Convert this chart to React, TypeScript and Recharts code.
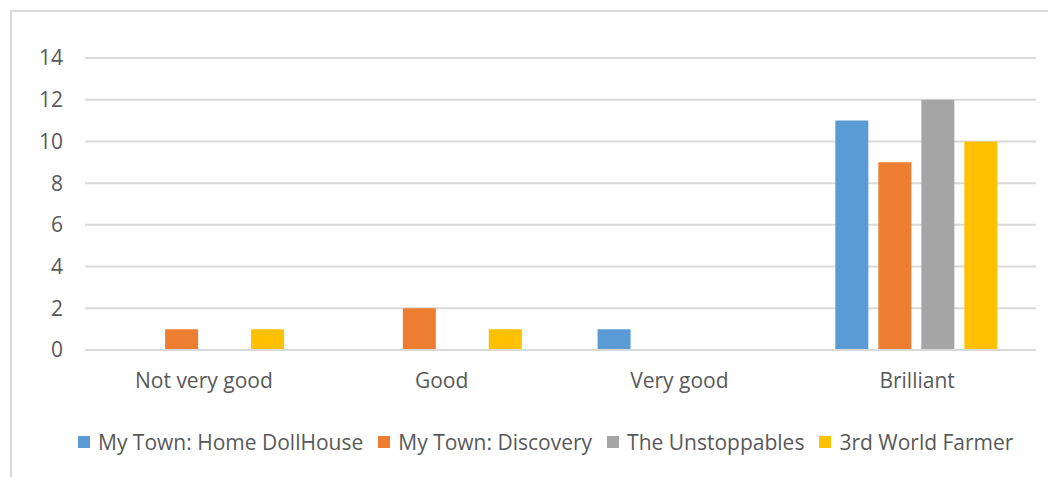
import React from 'react';
import { BarChart, Bar, XAxis, YAxis, CartesianGrid, Legend } from 'recharts';

// ratings from the survey
const categories = ['Not very good', 'Good', 'Very good', 'Brilliant'];
const homeDollHouse = [0, 0, 1, 11];
const discovery = [1, 2, 0, 9];
const unstoppables = [0, 0, 0, 12];
const worldFarmer = [1, 1, 0, 10];
const yTicks = [0, 2, 4, 6, 8, 10, 12, 14];

const series = [
    { key: 'home', name: 'My Town: Home DollHouse', color: '#5B9BD5' },
    { key: 'discovery', name: 'My Town: Discovery', color: '#ED7D31' },
    { key: 'unstoppables', name: 'The Unstoppables', color: '#A5A5A5' },
    { key: 'farmer', name: '3rd World Farmer', color: '#FFC000' },
];

const data = categories.map((c, i) => ({
    name: c,
    home: homeDollHouse[i],
    discovery: discovery[i],
    unstoppables: unstoppables[i],
    farmer: worldFarmer[i],
}));

const FONT = '"Open Sans", sans-serif';
const TEXT = '#595959';

function LegendRow() {
    return (
        <div style={{ display: 'flex', alignItems: 'center', height: 24, fontFamily: FONT, fontSize: 21, color: TEXT, whiteSpace: 'nowrap' }}>
            {series.map((s) => (
                <div key={s.key} style={{ display: 'flex', alignItems: 'center', marginRight: 15 }}>
                    <span style={{ width: 12, height: 12, background: s.color, marginRight: 8 }} />
                    <span>{s.name}</span>
                </div>
            ))}
        </div>
    );
}

export default function App() {
    return (
        <div style={{ position: 'relative', width: 1048, height: 469, background: '#fff' }}>
            {/* chart frame, cut off at right and bottom */}
            <div style={{ position: 'absolute', left: 2, top: 2, width: 1100, height: 500, borderLeft: '2px solid #d9d9d9', borderTop: '2px solid #d9d9d9' }} />
            <BarChart
                width={1048}
                height={469}
                data={data}
                margin={{ top: 50, right: 20, left: 17, bottom: 23 }}
                barCategoryGap="15.6%"
                barGap={10}
                style={{ position: 'absolute', left: 0, top: 0 }}
            >
                <CartesianGrid vertical={false} stroke="#d9d9d9" strokeWidth={2} />
                <XAxis
                    dataKey="name"
                    height={80}
                    tickLine={false}
                    axisLine={{ stroke: '#d9d9d9', strokeWidth: 2 }}
                    tickSize={0}
                    tickMargin={23}
                    tick={{ fill: TEXT, fontSize: 21, fontFamily: FONT }}
                />
                <YAxis
                    width={60}
                    domain={[0, 14]}
                    ticks={yTicks}
                    tickLine={false}
                    axisLine={false}
                    tickSize={0}
                    tickMargin={22}
                    tick={{ fill: TEXT, fontSize: 21, fontFamily: FONT }}
                />
                <Legend
                    verticalAlign="bottom"
                    content={() => <LegendRow />}
                    wrapperStyle={{ left: 70, width: 1000, height: 24 }}
                />
                {series.map((s) => (
                    <Bar key={s.key} dataKey={s.key} name={s.name} fill={s.color} isAnimationActive={false} />
                ))}
            </BarChart>
        </div>
    );
}
